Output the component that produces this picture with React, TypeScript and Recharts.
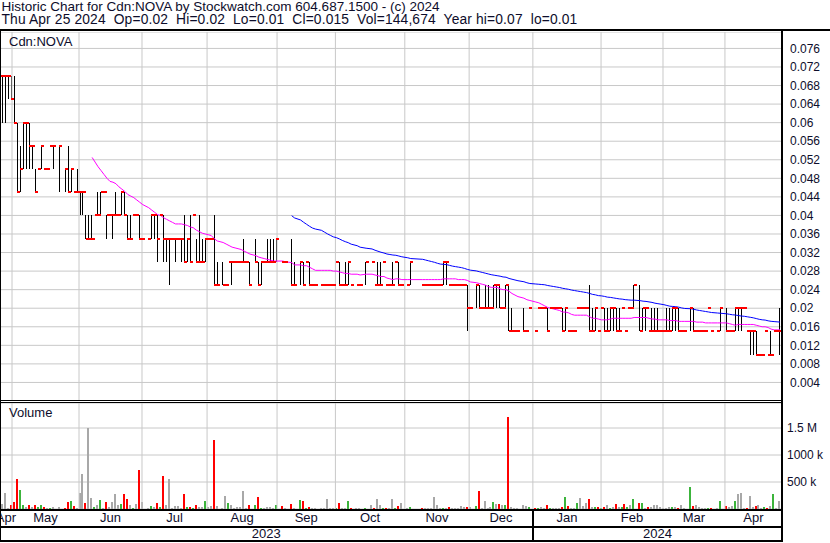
import React from "react";
import {
  ComposedChart,
  Bar,
  Line,
  Scatter,
  XAxis,
  YAxis,
  CartesianGrid,
  ReferenceLine,
} from "recharts";

// One slot per weekday, Tue 25 Apr 2023 .. Thu 25 Apr 2024 (null = holiday / no trade)
// Prices in 0.001 CAD
const highs = [
  70, 70, 70, 70, 70, 70, 60, 55, 60, 60,
  60, 55, 50, 50, 55, 50, 50, 55, 55, null,
  55, null, 50, 55, 50, 45, 50, 45, 45, 40,
  40, 40, 40, 45, 45, 45, 40, 40, 40, 45,
  40, 45, 45, 40, 40, 40, 40, 40, 35, null,
  35, 40, 40, 40, 40, 40, 35, 35, 35, 35,
  35, 35, 40, 35, 40, 40, 35, 40, 35, 35,
  35, 35, 40, 30, null, 30, 25, 30, 30, 30,
  30, 30, 35, 30, 30, null, 35, 30, 30, 30,
  35, 35, 35, 35, null, 30, 30, null, 35, 30,
  null, 30, 30, 30, 30, 25, 25, null, 25, 25,
  25, 25, 25, 30, 30, 25, 30, 30, 25, null,
  25, 25, null, 30, null, 30, 25, 30, 30, 30,
  25, 25, 30, 30, 30, 25, null, 25, 30, null,
  null, null, 25, 25, 25, 25, 25, 25, 25, 30,
  30, 25, 25, 25, 25, 25, 25, 25, 20, null,
  25, 25, 20, 25, 25, 20, 25, 25, 25, 20,
  25, 25, 20, 15, 15, null, 20, 15, 20, null,
  15, 20, 20, 20, 20, 20, 20, 20, 20, 20,
  20, 15, 15, 15, 20, 20, 20, 20, 25, 20,
  20, 15, 20, 20, 20, 20, 20, 20, 20, 20,
  15, 20, 20, 25, null, 25, 20, 20, 15, 20,
  20, 20, 15, 15, 20, 20, 20, 20, 20, 15,
  15, null, 20, 20, 15, 15, 15, 15, 20, 15,
  null, 15, 20, null, 20, 15, 15, 20, 20, 20,
  20, 15, 15, 15, 15, 10, 10, 15, 10, 15,
  15, 15, 20,
];

const lows = [
  60, 60, 60, 65, 65, 60, 45, 45, 50, 50,
  50, 50, 45, 50, 50, 50, 50, 55, 50, null,
  45, null, 45, 45, 45, 45, 45, 40, 40, 35,
  35, 35, 40, 40, 40, 45, 35, 40, 35, 40,
  40, 40, 40, 35, 35, 40, 40, 35, 35, null,
  35, 35, 35, 30, 40, 30, 30, 25, 35, 30,
  35, 30, 30, 30, 30, 40, 30, 30, 30, 30,
  35, 35, 25, 25, null, 25, 25, 30, 25, 30,
  30, 30, 30, 30, 25, null, 30, 25, 25, 30,
  30, 30, 30, 30, null, 30, 30, null, 25, 25,
  null, 25, 25, 30, 25, 25, 25, null, 25, 25,
  25, 25, 25, 30, 25, 25, 25, 25, 25, null,
  25, 25, null, 25, null, 30, 25, 25, 25, 30,
  25, 25, 25, 30, 25, 25, null, 25, 25, null,
  null, null, 25, 25, 25, 25, 25, 25, 25, 25,
  25, 25, 25, 25, 25, 25, 25, 15, 20, null,
  20, 20, 20, 20, 20, 20, 20, 20, 20, 20,
  20, 15, 15, 15, 15, null, 15, 15, 20, null,
  15, 20, 20, 20, 15, 20, 20, 20, 20, 15,
  15, 15, 15, 15, 20, 20, 20, 20, 15, 15,
  15, 15, 20, 15, 15, 15, 15, 15, 15, 20,
  15, 20, 20, 20, null, 15, 15, 15, 15, 15,
  15, 15, 15, 15, 15, 15, 15, 15, 15, 15,
  15, null, 15, 15, 15, 15, 15, 15, 20, 15,
  null, 15, 15, null, 15, 15, 15, 15, 15, 15,
  20, 15, 10, 10, 10, 10, 10, 15, 10, 10,
  15, 15, 10,
];

const closes = [
  70, 70, 70, 70, 65, 60, 45, 50, 60, 60,
  55, 55, 45, 50, 55, 50, 50, 55, 55, null,
  55, null, 50, 45, 50, 45, 45, 45, 45, 35,
  35, 35, 40, 40, 45, 45, 40, 40, 40, 40,
  40, 45, 40, 35, 35, 40, 40, 35, 35, null,
  35, 40, 40, 35, 40, 35, 35, 35, 35, 35,
  35, 35, 30, 35, 30, 40, 30, 30, 30, 35,
  35, 35, 25, 25, null, 25, 25, 30, 30, 30,
  30, 30, 30, 30, 25, null, 30, 25, 30, 30,
  30, 30, 30, 35, null, 30, 30, null, 25, 25,
  null, 30, 25, 30, 25, 25, 25, null, 25, 25,
  25, 25, 25, 30, 25, 25, 25, 30, 25, null,
  25, 25, null, 30, null, 30, 25, 25, 25, 30,
  25, 25, 25, 30, 25, 25, null, 25, 30, null,
  null, null, 25, 25, 25, 25, 25, 25, 25, 30,
  30, 25, 25, 25, 25, 25, 25, 20, 20, null,
  25, 20, 20, 20, 20, 20, 25, 25, 20, 20,
  25, 15, 15, 15, 15, null, 15, 15, 20, null,
  15, 20, 20, 20, 15, 20, 20, 20, 20, 15,
  20, 15, 15, 15, 20, 20, 20, 20, 15, 15,
  20, 15, 20, 15, 15, 20, 20, 15, 15, 20,
  15, 20, 20, 25, null, 15, 20, 20, 15, 15,
  15, 15, 15, 15, 15, 15, 20, 20, 15, 15,
  15, null, 20, 15, 15, 15, 15, 15, 20, 15,
  null, 15, 20, null, 15, 15, 15, 20, 20, 20,
  20, 15, 15, 15, 10, 10, 10, 15, 10, 10,
  15, 15, 15,
];

// Volume in thousands of shares
const volumes = [
  60, 89, 300, 20, 75, 130, 547, 360, 75, 30,
  75, 40, 75, 30, 75, 40, 20, 20, 30, null,
  30, null, 20, 130, 150, 60, 20, 300, 640, 110,
  1500, 210, 30, 75, 170, 25, 130, 40, 130, 270,
  75, 90, 285, 190, 75, 20, 90, 720, 130, null,
  20, 60, 30, 110, 40, 620, 75, 550, 20, 60,
  60, 20, 285, 30, 30, 20, 75, 30, 30, 150,
  30, 60, 1280, 60, null, 20, 240, 110, 75, 15,
  30, 30, 330, 20, 75, null, 75, 225, 20, 20,
  30, 30, 20, 75, null, 60, 20, null, 90, 20,
  null, 170, 150, 20, 30, 20, 20, null, 20, 20,
  190, 20, 20, 20, 110, 20, 20, 150, 20, null,
  20, 20, null, 20, null, 75, 20, 190, 75, 20,
  20, 15, 190, 20, 60, 110, null, 20, 40, null,
  null, null, 20, 20, 15, 15, 225, 75, 20, 20,
  20, 30, 20, 15, 20, 60, 30, 40, 30, null,
  60, 330, 20, 150, 20, 30, 130, 90, 90, 75,
  75, 1700, 30, 20, 15, null, 75, 60, 30, null,
  20, 20, 30, 15, 75, 20, 20, 20, 15, 40,
  225, 60, 20, 20, 110, 210, 60, 110, 190, 30,
  30, 40, 20, 40, 75, 20, 30, 90, 30, 30,
  90, 40, 75, 190, null, 110, 110, 20, 30, 30,
  75, 75, 40, 20, 20, 40, 30, 30, 20, 75,
  20, null, 400, 60, 75, 30, 20, 20, 20, 20,
  null, 20, 150, null, 60, 40, 60, 150, 270, 300,
  20, 15, 240, 30, 60, 75, 20, 30, 15, 60,
  270, 15, 145,
];

// Month boundaries (in slot units) and labels
const monthEdges = [0, 4.1, 26.6, 47.75, 69.6, 93.1, 112.7, 136, 157.6, 179, 201.9, 222.7, 243.5, 262.66];
const monthNames = ["Apr", "May", "Jun", "Jul", "Aug", "Sep", "Oct", "Nov", "Dec", "Jan", "Feb", "Mar", "Apr"];
const yearEdges = [0, 179, 262.66];
const yearNames = ["2023", "2024"];

const priceTicks = [
  0.004, 0.008, 0.012, 0.016, 0.02, 0.024, 0.028, 0.032, 0.036, 0.04,
  0.044, 0.048, 0.052, 0.056, 0.06, 0.064, 0.068, 0.072, 0.076,
];
const volumeTicks = [500, 1000, 1500];
const volumeLabels = ["500 k", "1000 k", "1.5 M"];

const SHORT_MA = 30;
const LONG_MA = 92;

const X_DOMAIN: [number, number] = [0.067, 262.66];
const PRICE_MAX = 0.07954;
const VOL_MAX = 1963;

const FONT = '"Liberation Sans", Arial, Helvetica, sans-serif';
const INK = "#0d0d2b";
const GRID = "#c8c8c8";
const RED = "#ff0000";
const GREEN = "#3cb43c";
const GREY = "#a8a8a8";

function sma(period: number) {
  const out: (number | null)[] = [];
  const buf: number[] = [];
  closes.forEach((c) => {
    if (c == null) {
      out.push(null);
      return;
    }
    buf.push(c);
    if (buf.length > period) buf.shift();
    out.push(buf.length === period ? buf.reduce((a, b) => a + b, 0) / period / 1000 : null);
  });
  return out;
}

const maShort = sma(SHORT_MA);
const maLong = sma(LONG_MA);

let prevClose: number | null = null;
const rows = highs.map((h, i) => {
  const c = closes[i];
  const l = lows[i];
  let dir = 0;
  if (c != null) {
    if (prevClose != null) dir = c > prevClose ? 1 : c < prevClose ? -1 : 0;
    prevClose = c;
  }
  return {
    i,
    range: h != null && l != null && h !== l ? [l / 1000, h / 1000] : null,
    cl: c == null ? null : c / 1000,
    vol: volumes[i],
    dir,
    maShort: maShort[i],
    maLong: maLong[i],
  };
});

const gridEdges = monthEdges.slice(1, -1);
const monthMids = monthNames.map((_, k) => (monthEdges[k] + monthEdges[k + 1]) / 2);
const yearMids = yearNames.map((_, k) => (yearEdges[k] + yearEdges[k + 1]) / 2);

const fmtPrice = (v: number) => String(Number(v.toFixed(3)));

const HiLo = (p: any) => {
  const { x, y, width, height } = p;
  if (![x, y, width, height].every((n) => Number.isFinite(n)) || height <= 0) return <g />;
  const cx = Math.floor(x + width / 2) + 0.5;
  return (
    <line
      x1={cx}
      x2={cx}
      y1={Math.round(y)}
      y2={Math.round(y + height)}
      stroke="#000"
      strokeWidth={1}
      shapeRendering="crispEdges"
    />
  );
};

const CloseTick = (p: any) => {
  const { cx, cy, payload } = p;
  if (!payload || payload.cl == null || !Number.isFinite(cx) || !Number.isFinite(cy)) return <g />;
  return <rect x={Math.floor(cx)} y={Math.round(cy) - 1} width={3} height={2} fill={RED} shapeRendering="crispEdges" />;
};

const VolBar = (p: any) => {
  const { x, y, width, height, payload } = p;
  if (![x, y, width, height].every((n) => Number.isFinite(n)) || height <= 0) return <g />;
  const cx = Math.floor(x + width / 2);
  const top = Math.round(y);
  const bottom = Math.round(y + height);
  const fill = payload.dir > 0 ? GREEN : payload.dir < 0 ? RED : GREY;
  return <rect x={cx - 1} y={top} width={2} height={Math.max(1, bottom - top)} fill={fill} shapeRendering="crispEdges" />;
};

const abs = (left: number, top: number, width: number, height: number, bg = "#000"): React.CSSProperties => ({
  position: "absolute",
  left,
  top,
  width,
  height,
  background: bg,
});

const textStyle = (left: number, top: number, size = 13, lh = size, ls = 0): React.CSSProperties => ({
  position: "absolute",
  left,
  top,
  fontSize: size,
  lineHeight: `${lh}px`,
  letterSpacing: ls,
  color: INK,
  whiteSpace: "pre",
  fontFamily: FONT,
});

export default function App() {
  return (
    <div
      style={{
        position: "absolute",
        left: 0,
        top: 0,
        width: 830,
        height: 543,
        background: "#fff",
        overflow: "hidden",
        fontFamily: FONT,
      }}
    >
      <div style={textStyle(1.5, 0, 13.5, 13)}>Historic Chart for Cdn:NOVA by Stockwatch.com 604.687.1500 - (c) 2024</div>
      <div style={textStyle(1.5, 13, 13.8, 13, 0.15)}>
        {"Thu Apr 25 2024  Op=0.02  Hi=0.02  Lo=0.01  Cl=0.015  Vol=144,674  Year hi=0.07  lo=0.01"}
      </div>

      {/* Price pane */}
      <div style={{ position: "absolute", left: 0, top: 32, width: 830, height: 369 }}>
        <ComposedChart width={830} height={369} data={rows} margin={{ top: 0, right: 0, bottom: 0, left: 0 }}>
          <CartesianGrid vertical={false} stroke={GRID} />
          <XAxis dataKey="i" type="number" domain={X_DOMAIN} allowDataOverflow hide />
          <YAxis
            orientation="right"
            width={48}
            type="number"
            domain={[0, PRICE_MAX]}
            allowDataOverflow
            ticks={priceTicks}
            interval={0}
            tickFormatter={fmtPrice}
            axisLine={false}
            tickLine={false}
            tickSize={0}
            tickMargin={8}
            tick={{ fontSize: 12, fill: INK, fontFamily: FONT }}
          />
          {gridEdges.map((v) => (
            <ReferenceLine key={v} x={v} stroke={GRID} strokeWidth={1} ifOverflow="hidden" />
          ))}
          <Bar dataKey="range" shape={HiLo} isAnimationActive={false} />
          <Scatter dataKey="cl" shape={CloseTick} isAnimationActive={false} />
          <Line
            dataKey="maLong"
            stroke="#0000ff"
            strokeWidth={1}
            dot={false}
            activeDot={false}
            connectNulls
            type="linear"
            isAnimationActive={false}
          />
          <Line
            dataKey="maShort"
            stroke="#ff00ff"
            strokeWidth={1}
            dot={false}
            activeDot={false}
            connectNulls
            type="linear"
            isAnimationActive={false}
          />
        </ComposedChart>
      </div>

      {/* Volume pane with month / year axes */}
      <div style={{ position: "absolute", left: 0, top: 403, width: 830, height: 138 }}>
        <ComposedChart width={830} height={138} data={rows} margin={{ top: 0, right: 0, bottom: 0, left: 0 }}>
          <CartesianGrid vertical={false} stroke={GRID} />
          <XAxis
            dataKey="i"
            type="number"
            domain={X_DOMAIN}
            allowDataOverflow
            ticks={monthMids}
            interval={0}
            tickFormatter={(_v: number, k: number) => monthNames[k]}
            height={17}
            axisLine={false}
            tickLine={false}
            tickSize={0}
            tickMargin={4}
            tick={{ fontSize: 13, fill: INK, fontFamily: FONT }}
          />
          <XAxis
            xAxisId="yr"
            dataKey="i"
            type="number"
            domain={X_DOMAIN}
            allowDataOverflow
            ticks={yearMids}
            interval={0}
            tickFormatter={(_v: number, k: number) => yearNames[k]}
            height={15}
            axisLine={false}
            tickLine={false}
            tickSize={0}
            tickMargin={3}
            tick={{ fontSize: 13, fill: INK, fontFamily: FONT }}
          />
          <YAxis
            orientation="right"
            width={48}
            type="number"
            domain={[0, VOL_MAX]}
            allowDataOverflow
            ticks={volumeTicks}
            interval={0}
            tickFormatter={(_v: number, k: number) => volumeLabels[k]}
            axisLine={false}
            tickLine={false}
            tickSize={0}
            tickMargin={5}
            tick={{ fontSize: 12, fill: INK, fontFamily: FONT }}
          />
          {gridEdges.map((v) => (
            <ReferenceLine key={v} x={v} stroke={GRID} strokeWidth={1} ifOverflow="hidden" />
          ))}
          <Bar dataKey="vol" shape={VolBar} isAnimationActive={false} />
        </ComposedChart>
      </div>

      {/* Frame */}
      <div style={abs(0, 29, 830, 2)} />
      <div style={abs(0, 31, 1, 511)} />
      <div style={abs(781, 31, 2, 511)} />
      <div style={abs(0, 400, 783, 1)} />
      <div style={abs(0, 402, 783, 1)} />
      <div style={abs(0, 509, 783, 2)} />
      <div style={abs(0, 526, 783, 2)} />
      <div style={abs(0, 540, 783, 2)} />
      <div style={abs(532, 509, 2, 33)} />

      <div style={textStyle(9, 35)}>Cdn:NOVA</div>
      <div style={textStyle(9, 406)}>Volume</div>
    </div>
  );
}
